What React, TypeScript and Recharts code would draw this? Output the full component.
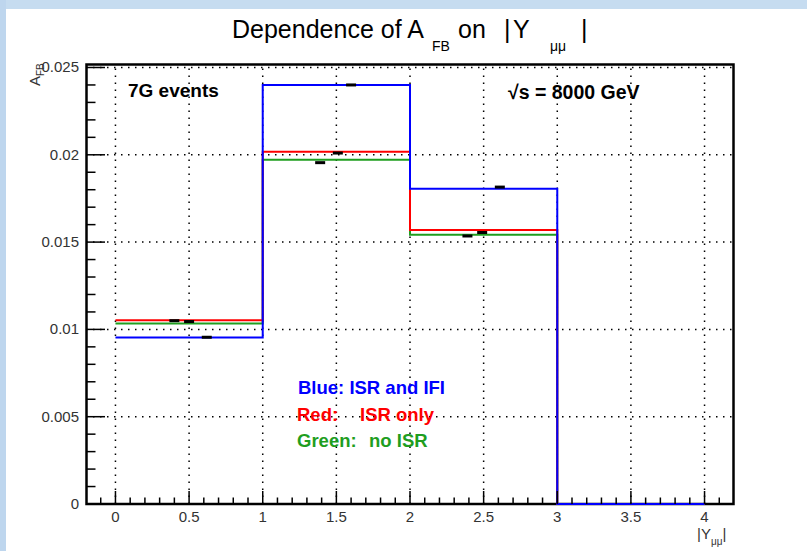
import React from 'react';
import { ComposedChart, Line, Scatter, XAxis, YAxis, ReferenceLine } from 'recharts';

// Histogram bin low edges (|Y_mumu|), last entry closes the last bin
const binEdges = [0, 1, 2, 3, 4];
const blueISRandIFI = [0.00954, 0.0240, 0.01805, 0, 0];
const redISROnly = [0.01052, 0.02017, 0.01569, 0, 0];
const greenNoISR = [0.01034, 0.01971, 0.01542, 0, 0];

// Black mean markers
const markerX = [0.40, 0.50, 0.62, 1.39, 1.51, 1.60, 2.39, 2.49, 2.61];
const markerY = [0.0105, 0.01045, 0.00955, 0.01955, 0.0201, 0.0240, 0.01535, 0.01555, 0.01815];

// Axis ticks
const xMajorTicks = [0, 0.5, 1, 1.5, 2, 2.5, 3, 3.5, 4];
const xMajorLabels = ['0', '0.5', '1', '1.5', '2', '2.5', '3', '3.5', '4'];
const xMinorTicks = [-0.1, 0.1, 0.2, 0.3, 0.4, 0.6, 0.7, 0.8, 0.9, 1.1, 1.2, 1.3, 1.4, 1.6, 1.7, 1.8, 1.9,
  2.1, 2.2, 2.3, 2.4, 2.6, 2.7, 2.8, 2.9, 3.1, 3.2, 3.3, 3.4, 3.6, 3.7, 3.8, 3.9, 4.1];
const yMajorTicks = [0, 0.005, 0.01, 0.015, 0.02, 0.025];
const yMajorLabels = ['0', '0.005', '0.01', '0.015', '0.02', '0.025'];
const yMinorTicks = [0.001, 0.002, 0.003, 0.004, 0.006, 0.007, 0.008, 0.009, 0.011, 0.012, 0.013, 0.014,
  0.016, 0.017, 0.018, 0.019, 0.021, 0.022, 0.023, 0.024];

const xDomain = [-0.2, 4.2];
const yDomain = [0, 0.0252];

const histData = binEdges.map((x, i) => ({
  x,
  blue: blueISRandIFI[i],
  red: redISROnly[i],
  green: greenNoISR[i],
}));
const markerData = markerX.map((x, i) => ({ x, y: markerY[i] }));

const allXTicks = [...xMajorTicks, ...xMinorTicks].sort((a, b) => a - b);
const allYTicks = [...yMajorTicks, ...yMinorTicks].sort((a, b) => a - b);

const FONT = '"Liberation Sans", Arial, Helvetica, sans-serif';

const XTick = (props: any) => {
  const { x, y, payload } = props;
  const v = payload.value;
  const idx = xMajorTicks.findIndex((t) => Math.abs(t - v) < 1e-6);
  const major = idx >= 0;
  return (
    <g>
      <line x1={x} x2={x} y1={y} y2={y - (major ? 13 : 6.5)} stroke="#000" strokeWidth={1.5} />
      {major && (
        <text x={x} y={y + 18} textAnchor="middle" fontFamily={FONT} fontSize={15} fill="#333">
          {xMajorLabels[idx]}
        </text>
      )}
    </g>
  );
};

const YTick = (props: any) => {
  const { x, y, payload } = props;
  const v = payload.value;
  const idx = yMajorTicks.findIndex((t) => Math.abs(t - v) < 1e-9);
  const major = idx >= 0;
  return (
    <g>
      <line x1={x} x2={x + (major ? 19 : 9.5)} y1={y} y2={y} stroke="#000" strokeWidth={1.5} />
      {major && (
        <text x={x - 7} y={y + 5} textAnchor="end" fontFamily={FONT} fontSize={15} fill="#333">
          {yMajorLabels[idx]}
        </text>
      )}
    </g>
  );
};

const Marker = (props: any) => {
  const { cx, cy } = props;
  if (cx == null || cy == null) return null;
  return <rect x={cx - 5} y={cy - 1.5} width={10} height={3} fill="#000" />;
};

export default function App() {
  return (
    <div style={{ position: 'absolute', left: 0, top: 0, width: 807, height: 551, background: '#fff', overflow: 'hidden' }}>
      <div style={{ position: 'absolute', left: 0, top: 0, width: 807, height: 9, background: '#c6dcf0' }} />
      <div style={{ position: 'absolute', left: 0, top: 0, width: 6, height: 551, background: '#bed6ee' }} />
      <svg width={807} height={551} style={{ position: 'absolute', left: 0, top: 0 }}>
        <rect x={86.5} y={64.5} width={647} height={439.5} fill="none" stroke="#000" strokeWidth={2.5} />
      </svg>
      <div style={{ position: 'absolute', left: 0, top: 0 }}>
        <ComposedChart width={807} height={551} data={histData} margin={{ top: 64, right: 73, bottom: 0, left: 0 }}>
          <XAxis
            dataKey="x"
            type="number"
            domain={xDomain}
            ticks={allXTicks}
            interval={0}
            tickSize={0}
            tickMargin={0}
            axisLine={false}
            tickLine={false}
            tick={<XTick />}
            height={47}
          />
          <YAxis
            type="number"
            domain={yDomain}
            ticks={allYTicks}
            interval={0}
            tickSize={0}
            tickMargin={0}
            axisLine={false}
            tickLine={false}
            tick={<YTick />}
            width={86}
          />
          {xMajorTicks.map((t) => (
            <ReferenceLine key={'gx' + t} x={t} stroke="#000" strokeWidth={1.5} strokeDasharray="1.5 5.5" />
          ))}
          {yMajorTicks.slice(1).map((t) => (
            <ReferenceLine key={'gy' + t} y={t} stroke="#000" strokeWidth={1.5} strokeDasharray="1.5 5.5" />
          ))}
          <Line dataKey="green" type="stepAfter" stroke="#1f9e1f" strokeWidth={2} dot={false} isAnimationActive={false} />
          <Line dataKey="red" type="stepAfter" stroke="#ff0000" strokeWidth={2} dot={false} isAnimationActive={false} />
          <Line dataKey="blue" type="stepAfter" stroke="#0000ff" strokeWidth={2} dot={false} isAnimationActive={false} />
          <Scatter data={markerData} dataKey="y" shape={<Marker />} isAnimationActive={false} />
        </ComposedChart>
      </div>
      <svg width={807} height={551} style={{ position: 'absolute', left: 0, top: 0, pointerEvents: 'none' }}>
        <text x={232} y={38} fontFamily={FONT} fontSize={25} fill="#000">Dependence of A</text>
        <text x={432} y={51} fontFamily={FONT} fontSize={14} fill="#000">FB</text>
        <text x={458} y={38} fontFamily={FONT} fontSize={25} fill="#000">on</text>
        <text x={504} y={38} fontFamily={FONT} fontSize={25} fill="#000">|</text>
        <text x={513} y={38} fontFamily={FONT} fontSize={25} fill="#000">Y</text>
        <text x={550} y={51} fontFamily={FONT} fontSize={14} fill="#000">μμ</text>
        <text x={581} y={38} fontFamily={FONT} fontSize={25} fill="#000">|</text>
        <text x={128} y={97} fontFamily={FONT} fontWeight="bold" fontSize={19} fill="#000">7G events</text>
        <text x={508} y={99} fontFamily={FONT} fontWeight="bold" fontSize={19.5} fill="#000">√s = 8000 GeV</text>
        <text x={298} y={394} fontFamily={FONT} fontWeight="bold" fontSize={18.5} fill="#0000ff">Blue: ISR and IFI</text>
        <text x={297} y={421} fontFamily={FONT} fontWeight="bold" fontSize={18.5} fill="#ff0000">Red:</text>
        <text x={360} y={421} fontFamily={FONT} fontWeight="bold" fontSize={18.5} fill="#ff0000">ISR only</text>
        <text x={297} y={447} fontFamily={FONT} fontWeight="bold" fontSize={18.5} fill="#1f9e1f">Green:</text>
        <text x={369} y={447} fontFamily={FONT} fontWeight="bold" fontSize={18.5} fill="#1f9e1f">no ISR</text>
        <g transform="translate(40,86) rotate(-90)">
          <text x={0} y={0} fontFamily={FONT} fontSize={15} fill="#333">
            A<tspan fontSize={10} dy={4}>FB</tspan>
          </text>
        </g>
        <text x={697} y={539} fontFamily={FONT} fontSize={15} fill="#333">
          |Y<tspan fontSize={10} dy={6}>μμ</tspan><tspan fontSize={15} dy={-6}>|</tspan>
        </text>
      </svg>
    </div>
  );
}
